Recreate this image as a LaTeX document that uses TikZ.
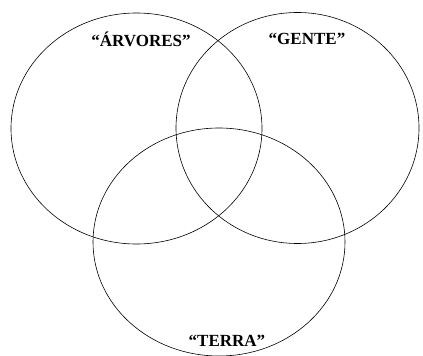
\documentclass[tikz,border=0pt]{standalone}
\usepackage{fontspec}
\setmainfont{Liberation Serif}
\tikzset{
  conjunto/.style={line width=0.6pt},
  rotulo/.style={font=\bfseries\fontsize{17}{20}\selectfont, inner sep=0pt}
}
\begin{document}
\begin{tikzpicture}[x=1pt,y=1pt]
 \useasboundingbox (0,0) rectangle (423,356);

 % ELLIPSES
 \draw[conjunto] (136.5,227.5) ellipse (125.5 and 115.5); % arvores
 \draw[conjunto] (297.5,228)   ellipse (121.5 and 115.5); % gente
 \draw[conjunto] (219,114)     ellipse (126 and 114);     % terra

 % LABELS
 \node[rotulo] (arvores) at (141,317) {“ÁRVORES”};
 \node[rotulo] (gente)   at (307,317) {“GENTE”};
 \node[rotulo] (terra)   at (227,15)  {“TERRA”};
\end{tikzpicture}
\end{document}
